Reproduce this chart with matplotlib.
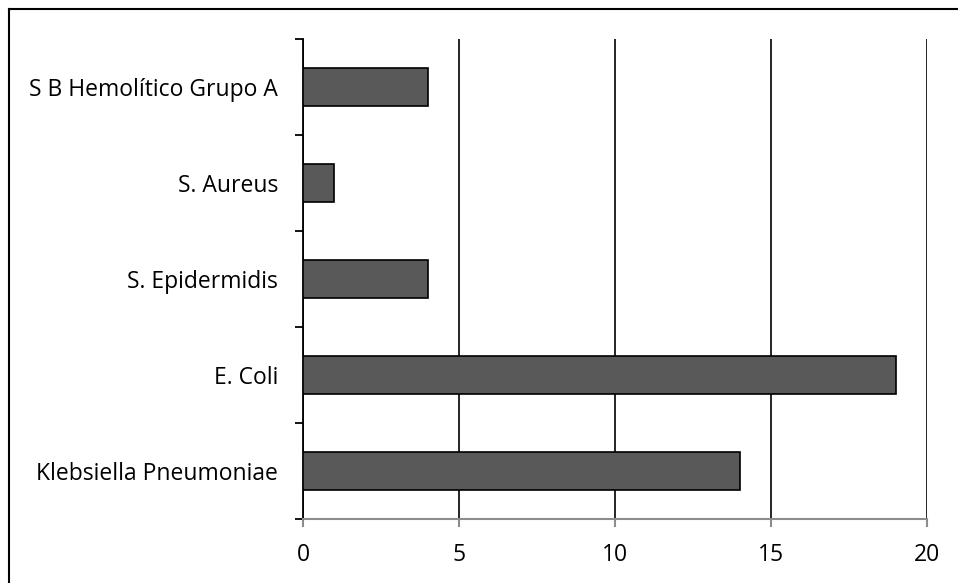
import matplotlib.pyplot as plt
from matplotlib.lines import Line2D

categories = ['Klebsiella Pneumoniae', 'E. Coli', 'S. Epidermidis', 'S. Aureus', 'S B Hemolítico Grupo A']
values = [14, 19, 4, 1, 4]
xticks = [0, 5, 10, 15, 20]

plt.rcParams['font.family'] = ['Open Sans', 'DejaVu Sans']

fig = plt.figure(figsize=(9.58, 5.83), dpi=100)
ax = fig.add_axes([303 / 958, 1 - 519 / 583, (927 - 303) / 958, (519 - 39) / 583])

ax.barh(range(len(categories)), values, height=0.4, color='#595959',
        edgecolor='black', linewidth=1.2, zorder=3)

ax.set_xlim(0, 20)
ax.set_ylim(-0.5, len(categories) - 0.5)
ax.set_xticks(xticks)
ax.set_xticklabels([str(t) for t in xticks], fontsize=16.5)
ax.set_yticks(range(len(categories)))
ax.set_yticklabels(categories, fontsize=16.5)
ax.tick_params(axis='y', length=0, pad=18)
ax.tick_params(axis='x', length=6, color='#8c8c8c', width=1.5, pad=11)

# boundary ticks on category axis
ax.set_yticks([i - 0.5 for i in range(len(categories) + 1)], minor=True)
ax.tick_params(axis='y', which='minor', length=6, color='black', width=1.3)

ax.xaxis.grid(True, color='black', linewidth=1.2, zorder=0)
for s in ['top', 'right']:
    ax.spines[s].set_visible(False)
ax.spines['left'].set_color('black')
ax.spines['left'].set_linewidth(1.3)
ax.spines['bottom'].set_color('#8c8c8c')
ax.spines['bottom'].set_linewidth(1.5)

# chart frame (only top and left edges fall inside the image)
top = 1 - 9 / 583
left = 8.5 / 958
fig.lines.append(Line2D([left, 1], [top, top], transform=fig.transFigure,
                        color='black', linewidth=1.5))
fig.lines.append(Line2D([left, left], [0, top], transform=fig.transFigure,
                        color='black', linewidth=1.5))

fig.savefig('out.png', dpi=100)
